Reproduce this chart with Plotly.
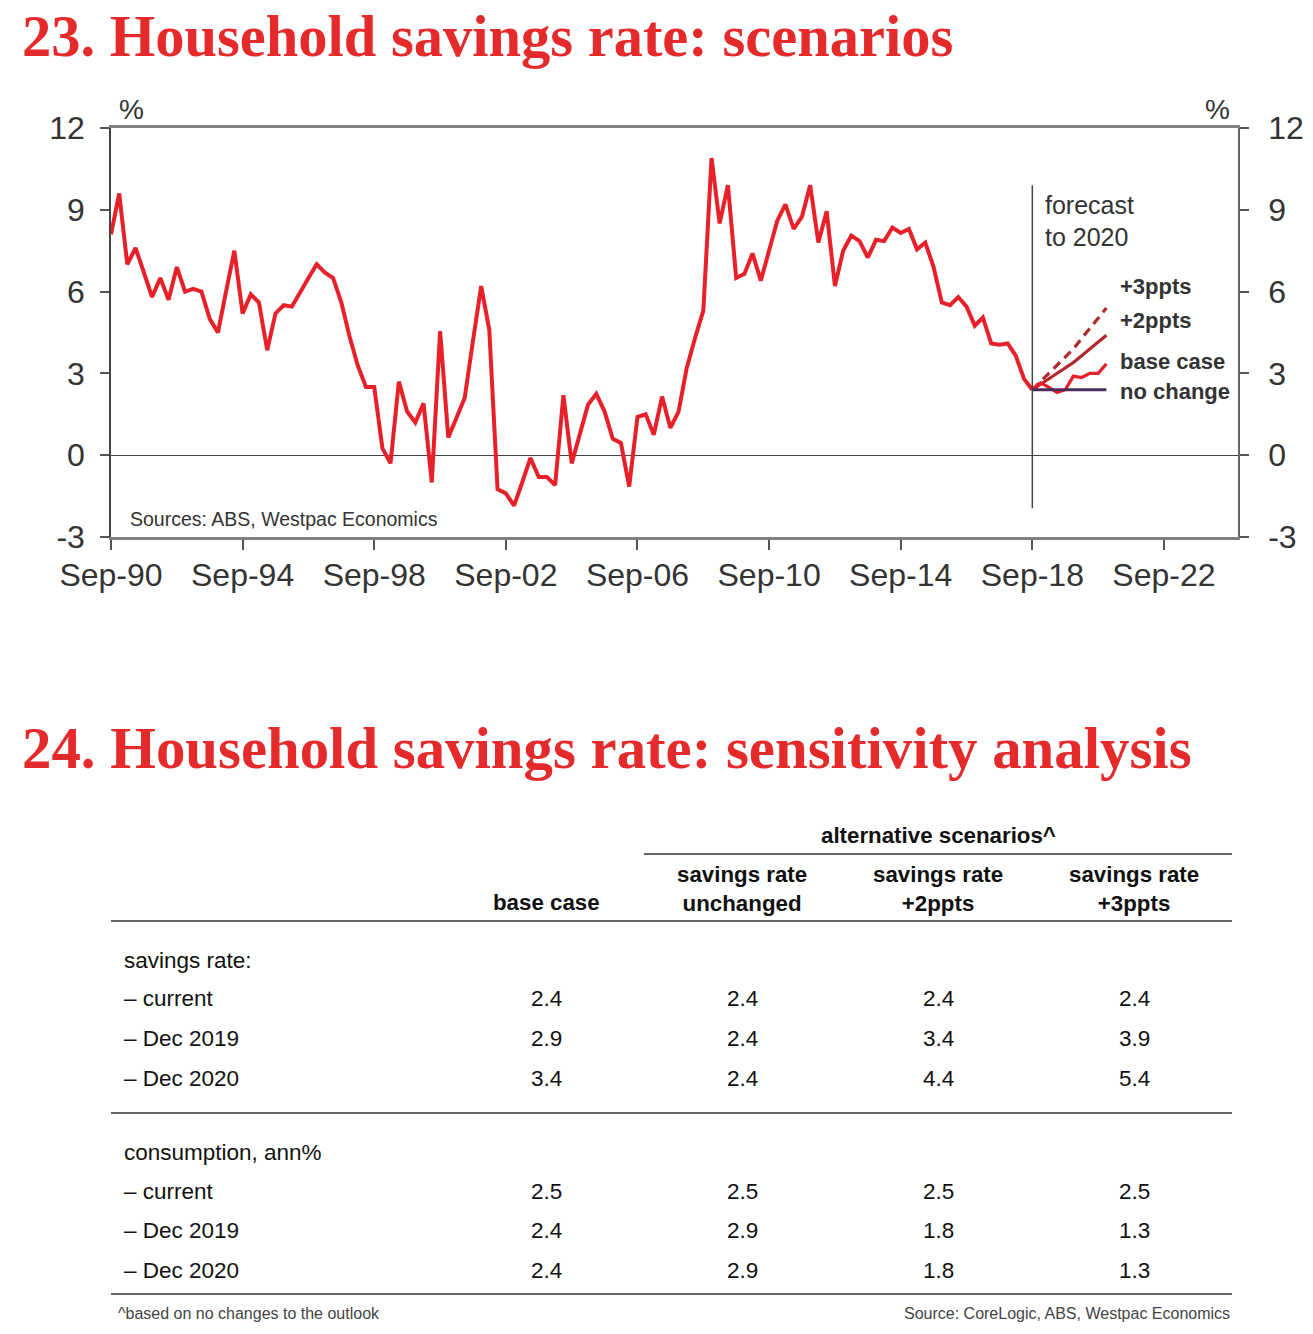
import plotly.graph_objects as go
import pandas as pd

W, H = 1313, 1334

# ---------------- data ----------------
hist_dates = pd.date_range("1990-09-01", periods=113, freq="3MS")
savings_rate = [
    8.1, 9.6,
    7.0, 7.6, 6.7, 5.8,
    6.5, 5.7, 6.9, 6.0,
    6.1, 6.0, 5.0, 4.5,
    6.0, 7.5, 5.2, 5.9,
    5.6, 3.85, 5.2, 5.5,
    5.45, 6.0, 6.5, 7.0,
    6.7, 6.5, 5.6, 4.35,
    3.3, 2.5, 2.5, 0.25,
    -0.3, 2.7, 1.6, 1.2,
    1.9, -1.0, 4.55, 0.65,
    1.4, 2.1, 4.2, 6.2,
    4.6, -1.25, -1.4, -1.85,
    -1.0, -0.1, -0.8, -0.8,
    -1.1, 2.2, -0.3, 0.8,
    1.85, 2.25, 1.6, 0.6,
    0.45, -1.15, 1.4, 1.5,
    0.75, 2.15, 1.0, 1.6,
    3.2, 4.3, 5.3, 10.9,
    8.5, 9.9, 6.5, 6.65,
    7.4, 6.4, 7.45, 8.6,
    9.2, 8.3, 8.75, 9.9,
    7.8, 8.95, 6.2, 7.5,
    8.05, 7.85, 7.25, 7.9,
    7.85, 8.35, 8.15, 8.3,
    7.55, 7.8, 6.9, 5.6,
    5.5, 5.8, 5.45, 4.75,
    5.05, 4.1, 4.05, 4.1,
    3.65, 2.8, 2.4,
]

fc_dates = pd.date_range("2018-09-01", periods=10, freq="3MS")
base_case = [2.4, 2.65, 2.5, 2.3, 2.4, 2.9, 2.85, 3.0, 3.0, 3.35]
plus_2ppts = [2.4, 2.6, 2.8, 3.0, 3.2, 3.4, 3.65, 3.9, 4.15, 4.4]
plus_3ppts = [2.4, 2.7, 3.0, 3.3, 3.6, 3.9, 4.28, 4.65, 5.03, 5.4]
no_change = [2.4, 2.4, 2.4, 2.4, 2.4, 2.4, 2.4, 2.4, 2.4, 2.4]

x_tick_dates = ["1990-09-01", "1994-09-01", "1998-09-01", "2002-09-01", "2006-09-01",
                "2010-09-01", "2014-09-01", "2018-09-01", "2022-09-01"]
x_tick_labels = ["Sep-90", "Sep-94", "Sep-98", "Sep-02", "Sep-06",
                 "Sep-10", "Sep-14", "Sep-18", "Sep-22"]
y_ticks = [-3, 0, 3, 6, 9, 12]

forecast_start = "2018-09-01"
forecast_line_range = [-1.95, 9.9]

# table data
col_headers = ["base case", "savings rate<br>unchanged", "savings rate<br>+2ppts", "savings rate<br>+3ppts"]
savings_rows = ["– current", "– Dec 2019", "– Dec 2020"]
savings_values = [
    ["2.4", "2.4", "2.4", "2.4"],
    ["2.9", "2.4", "3.4", "3.9"],
    ["3.4", "2.4", "4.4", "5.4"],
]
consumption_rows = ["– current", "– Dec 2019", "– Dec 2020"]
consumption_values = [
    ["2.5", "2.5", "2.5", "2.5"],
    ["2.4", "2.9", "1.8", "1.3"],
    ["2.4", "2.9", "1.8", "1.3"],
]

# ---------------- style ----------------
RED = "#e8202a"
DARKRED = "#b3282d"
PURPLE = "#4b2c5c"
TXT = "#333333"
SANS = "Liberation Sans, Arial, sans-serif"
SERIF = "Liberation Serif, Times New Roman, serif"

def px(x):
    return x / W

def py(y):
    return 1 - y / H

fig = go.Figure()

fig.add_trace(go.Scatter(x=hist_dates, y=savings_rate, mode="lines",
                         line=dict(color=RED, width=4), hoverinfo="skip"))
fig.add_trace(go.Scatter(x=fc_dates, y=plus_3ppts, mode="lines",
                         line=dict(color=DARKRED, width=3.2, dash="9px,6px"), hoverinfo="skip"))
fig.add_trace(go.Scatter(x=fc_dates, y=plus_2ppts, mode="lines",
                         line=dict(color=DARKRED, width=3.2), hoverinfo="skip"))
fig.add_trace(go.Scatter(x=fc_dates, y=base_case, mode="lines",
                         line=dict(color=RED, width=3.2), hoverinfo="skip"))
fig.add_trace(go.Scatter(x=fc_dates, y=no_change, mode="lines", yaxis="y2",
                         line=dict(color=PURPLE, width=3.2), hoverinfo="skip"))

fig.add_shape(type="line", xref="x", yref="y", x0=forecast_start, x1=forecast_start,
              y0=forecast_line_range[0], y1=forecast_line_range[1],
              line=dict(color="#444444", width=1.5))

tickfont = dict(family=SANS, size=32, color=TXT)
fig.update_layout(
    width=W, height=H,
    margin=dict(l=0, r=0, t=0, b=0, pad=0, autoexpand=False),
    paper_bgcolor="white", plot_bgcolor="white",
    showlegend=False,
    xaxis=dict(type="date", range=["1990-09-01", "2024-12-01"],
               domain=[px(111), px(1238)], automargin=False,
               tickvals=x_tick_dates, ticktext=x_tick_labels,
               showline=True, linecolor="#808080", linewidth=2.5, mirror=True,
               ticks="outside", ticklen=10, tickwidth=1.5, tickcolor="#555555",
               tickfont=tickfont, showgrid=False, zeroline=False,
               ticklabelstandoff=-2),
    yaxis=dict(range=[-3, 12], domain=[py(537), py(128)], automargin=False,
               tickvals=y_ticks, ticktext=[str(v) for v in y_ticks],
               showline=True, linecolor="#444444", linewidth=1.5,
               ticks="outside", ticklen=9, tickwidth=1.5, tickcolor="#555555",
               tickfont=tickfont, showgrid=False,
               zeroline=True, zerolinecolor="#444444", zerolinewidth=1.2,
               ticklabelstandoff=9),
    yaxis2=dict(range=[-3, 12], overlaying="y", side="right", automargin=False,
                tickvals=y_ticks, ticktext=[str(v) for v in y_ticks],
                showline=True, linecolor="#666666", linewidth=1.5,
                ticks="outside", ticklen=9, tickwidth=1.5, tickcolor="#555555",
                tickfont=tickfont, showgrid=False, zeroline=False,
                ticklabelstandoff=13),
)

def ann(text, x, y, size, color=TXT, family=SANS, xanchor="left", yanchor="middle"):
    fig.add_annotation(text=text, x=px(x), y=py(y), xref="paper", yref="paper",
                       xanchor=xanchor, yanchor=yanchor, showarrow=False,
                       font=dict(family=family, size=size, color=color))

# titles
ann("<b>23. Household savings rate: scenarios</b>", 20, 36, 58.5, color="#e52a2b", family=SERIF)
ann("<b>24. Household savings rate: sensitivity analysis</b>", 20, 748, 58.8, color="#e52a2b", family=SERIF)

# chart annotations
ann("%", 131, 110, 28, xanchor="center")
ann("%", 1217, 110, 28, xanchor="center")
ann("forecast", 1043, 205, 25)
ann("to 2020", 1043, 237, 25)
ann("<b>+3ppts</b>", 1118, 286, 22)
ann("<b>+2ppts</b>", 1118, 320, 22)
ann("<b>base case</b>", 1118, 361, 22)
ann("<b>no change</b>", 1118, 391, 22)
ann("Sources: ABS, Westpac Economics", 128, 519, 19.5)

# ---------------- table ----------------
BLACK = "#111111"
col_x = [546, 742, 938, 1134]
ann("<b>alternative scenarios^</b>", 938, 835, 22.3, color=BLACK, xanchor="center")
for cx, h in zip(col_x, col_headers):
    ann("<b>" + h + "</b>", cx, 889 if "<br>" in h else 902, 22.3, color=BLACK, xanchor="center")

def hline(x0, x1, y, color="#333333", width=1.3):
    fig.add_shape(type="line", xref="paper", yref="paper", x0=px(x0), x1=px(x1),
                  y0=py(y), y1=py(y), line=dict(color=color, width=width))

hline(644, 1232, 854, color="#666666", width=2)
hline(111, 1232, 921)
hline(111, 1232, 1113)
hline(111, 1232, 1294)

ann("savings rate:", 122, 960, 22.5, color=BLACK)
for i, (lab, vals) in enumerate(zip(savings_rows, savings_values)):
    y = 998 + 40 * i
    ann(lab, 122, y, 22.5, color=BLACK)
    for cx, v in zip(col_x, vals):
        ann(v, cx, y, 22.5, color=BLACK, xanchor="center")

ann("consumption, ann%", 122, 1152, 22.5, color=BLACK)
for i, (lab, vals) in enumerate(zip(consumption_rows, consumption_values)):
    y = 1191 + 39.5 * i
    ann(lab, 122, y, 22.5, color=BLACK)
    for cx, v in zip(col_x, vals):
        ann(v, cx, y, 22.5, color=BLACK, xanchor="center")

ann("^based on no changes to the outlook", 116, 1313, 16, color="#444444")
ann("Source: CoreLogic, ABS, Westpac Economics", 1232, 1313, 16, color="#444444", xanchor="right")

fig.write_html("out.html", config={"displayModeBar": False},
               post_script="document.body.style.margin='0';document.body.style.overflow='hidden';")
